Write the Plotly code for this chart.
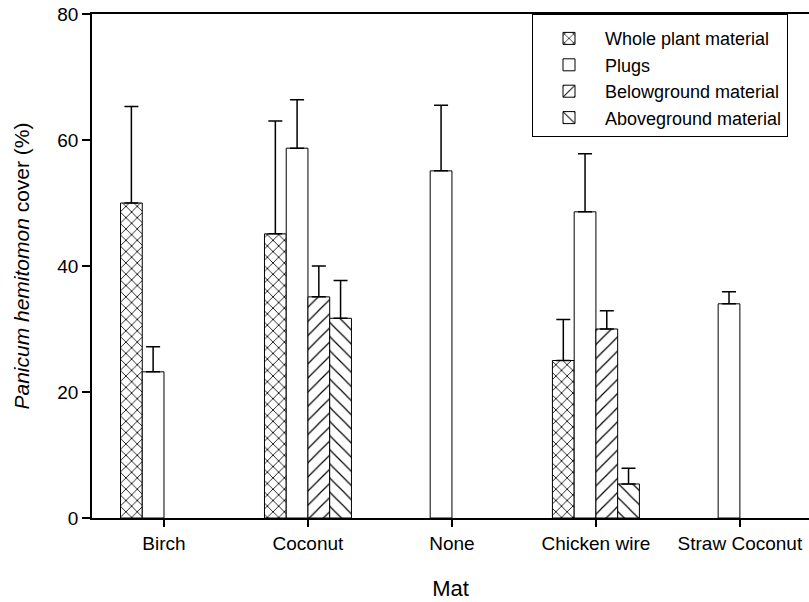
import plotly.graph_objects as go

mats = ["Birch", "Coconut", "None", "Chicken wire", "Straw Coconut"]

whole_plant = [50.0, 45.1, None, 25.0, None]
whole_plant_se = [15.3, 17.9, None, 6.5, None]

plugs = [23.2, 58.7, 55.1, 48.6, 34.0]
plugs_se = [4.0, 7.7, 10.4, 9.2, 1.9]

belowground = [None, 35.1, None, 30.0, None]
belowground_se = [None, 4.9, None, 2.9, None]

aboveground = [None, 31.7, None, 5.4, None]
aboveground_se = [None, 6.0, None, 2.5, None]

series = [
    ("Whole plant material", whole_plant, whole_plant_se, "x", 8, 0.2),
    ("Plugs", plugs, plugs_se, "", 8, 0.1),
    ("Belowground material", belowground, belowground_se, "/", 10, 0.12),
    ("Aboveground material", aboveground, aboveground_se, "\\", 10, 0.12),
]

FONT = "Liberation Sans, Arial, sans-serif"

fig = go.Figure()
for name, vals, se, shape, size, solidity in series:
    fig.add_trace(go.Bar(
        name=name,
        x=mats,
        y=vals,
        marker=dict(
            color="white",
            line=dict(color="black", width=1),
            pattern=dict(shape=shape, fgcolor="black", bgcolor="white",
                         size=size, solidity=solidity, fillmode="replace"),
        ),
        error_y=dict(type="data", symmetric=False, array=se,
                     arrayminus=[0 if v is not None else None for v in se],
                     color="black", thickness=1.5, width=7),
    ))

fig.update_layout(
    width=809, height=602,
    margin=dict(l=92, r=0, t=14, b=84),
    paper_bgcolor="white", plot_bgcolor="white",
    barmode="group", bargap=0.396, bargroupgap=0,
    font=dict(family=FONT, color="black", size=19),
    showlegend=True,
    legend=dict(
        x=(532 - 92) / 717, y=1, xanchor="left", yanchor="top",
        bgcolor="white", bordercolor="black", borderwidth=1,
        font=dict(size=18, family=FONT), itemwidth=62,
        tracegroupgap=0, traceorder="normal",
        title=dict(text=" ", font=dict(size=4)),
    ),
    xaxis=dict(
        range=[-0.5, 4.48], showline=True, linecolor="black", linewidth=1.5,
        mirror=True, ticks="outside", ticklen=7, tickcolor="black", tickwidth=1.5,
        showgrid=False, tickfont=dict(size=19, family=FONT),
        title=dict(text="Mat", font=dict(size=22, family=FONT), standoff=28),
    ),
    yaxis=dict(
        range=[0, 80], dtick=20, showline=True, linecolor="black", linewidth=1.5,
        ticks="outside", ticklen=8, tickcolor="black", tickwidth=1.5,
        showgrid=False, zeroline=False, tickfont=dict(size=19, family=FONT),
        title=dict(text="<i>Panicum hemitomon</i> cover (%)",
                   font=dict(size=21, family=FONT), standoff=22),
    ),
)

fig.write_html("out.html")
